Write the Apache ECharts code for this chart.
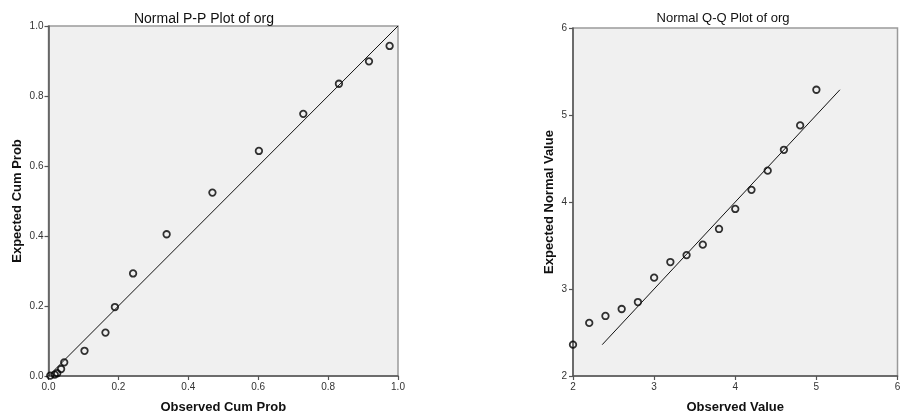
<!DOCTYPE html>
<html>
<head>
<meta charset="utf-8">
<script src="https://cdn.jsdelivr.net/npm/echarts@6/dist/echarts.min.js"></script>
<style>
html,body{margin:0;padding:0;background:#fff;}
#c{width:905px;height:420px;}
</style>
</head>
<body>
<div id="c"></div>
<script>
// P-P plot: observed cumulative probability vs expected cumulative probability
var ppObserved = [0.005, 0.018, 0.025, 0.036, 0.045, 0.103, 0.163, 0.190, 0.242, 0.338, 0.469, 0.602, 0.729, 0.831, 0.917, 0.976];
var ppExpected = [0.001, 0.004, 0.008, 0.020, 0.039, 0.072, 0.124, 0.197, 0.293, 0.405, 0.524, 0.643, 0.749, 0.835, 0.899, 0.943];
var ppLine = [[0, 0], [1, 1]];
var ppTicks = [0, 0.2, 0.4, 0.6, 0.8, 1.0];

// Q-Q plot: observed value vs expected normal value
var qqObserved = [2.0, 2.2, 2.4, 2.6, 2.8, 3.0, 3.2, 3.4, 3.6, 3.8, 4.0, 4.2, 4.4, 4.6, 4.8, 5.0];
var qqExpected = [2.36, 2.61, 2.69, 2.77, 2.85, 3.13, 3.31, 3.39, 3.51, 3.69, 3.92, 4.14, 4.36, 4.60, 4.88, 5.29];
var qqLine = [[2.36, 2.36], [5.29, 5.29]];
var qqTicks = [2, 3, 4, 5, 6];

var FONT = '"Liberation Sans", Arial, sans-serif';

function zip(a, b) { return a.map(function (v, i) { return [v, b[i]]; }); }

function axisCommon(min, max, interval, dec) {
  return {
    type: 'value', min: min, max: max, interval: interval,
    axisLine: { show: true, onZero: false, lineStyle: { color: '#555', width: 1.5 } },
    axisTick: { show: true, inside: false, length: 4, lineStyle: { color: '#555', width: 1.2 } },
    splitLine: { show: false },
    axisLabel: {
      color: '#333', fontSize: 10, fontFamily: FONT, margin: 5,
      formatter: function (v) { return dec ? v.toFixed(1) : String(v); }
    },
    nameLocation: 'middle',
    nameTextStyle: { color: '#111', fontSize: 13, fontWeight: 'bold', fontFamily: FONT }
  };
}

var chart = echarts.init(document.getElementById('c'), null, { renderer: 'canvas' });

var xa0 = axisCommon(ppTicks[0], ppTicks[ppTicks.length - 1], 0.2, true);
xa0.gridIndex = 0; xa0.name = 'Observed Cum Prob'; xa0.nameGap = 25; xa0.axisLabel.margin = 6;
var ya0 = axisCommon(ppTicks[0], ppTicks[ppTicks.length - 1], 0.2, true);
ya0.gridIndex = 0; ya0.name = 'Expected Cum Prob'; ya0.nameGap = 25;

var xa1 = axisCommon(qqTicks[0], qqTicks[qqTicks.length - 1], 1, false);
xa1.gridIndex = 1; xa1.name = 'Observed Value'; xa1.nameGap = 25; xa1.axisLabel.margin = 6;
var ya1 = axisCommon(qqTicks[0], qqTicks[qqTicks.length - 1], 1, false);
ya1.gridIndex = 1; ya1.name = 'Expected Normal Value'; ya1.nameGap = 17; ya1.axisLabel.margin = 6;

var scatterStyle = { color: 'rgba(0,0,0,0)', borderColor: '#000', borderWidth: 1.8 };

chart.setOption({
  animation: false,
  backgroundColor: '#fff',
  title: [
    { text: 'Normal P-P Plot of org', left: 199, top: 7, textAlign: 'center',
      textStyle: { fontSize: 14, fontWeight: 'normal', color: '#111', fontFamily: FONT } },
    { text: 'Normal Q-Q Plot of org', left: 718, top: 7, textAlign: 'center',
      textStyle: { fontSize: 13, fontWeight: 'normal', color: '#111', fontFamily: FONT } }
  ],
  grid: [
    { left: 48.5, top: 26, width: 349.5, height: 350, show: true, backgroundColor: '#f0f0f0', borderColor: '#9a9a9a', borderWidth: 1.5 },
    { left: 573, top: 28, width: 324.5, height: 348, show: true, backgroundColor: '#f0f0f0', borderColor: '#9a9a9a', borderWidth: 1.5 }
  ],
  xAxis: [xa0, xa1],
  yAxis: [ya0, ya1],
  series: [
    { type: 'line', xAxisIndex: 0, yAxisIndex: 0, data: ppLine, symbol: 'none',
      lineStyle: { color: '#111', width: 1 }, silent: true },
    { type: 'scatter', xAxisIndex: 0, yAxisIndex: 0, data: zip(ppObserved, ppExpected),
      symbol: 'circle', symbolSize: 6.5, itemStyle: scatterStyle },
    { type: 'line', xAxisIndex: 1, yAxisIndex: 1, data: qqLine, symbol: 'none',
      lineStyle: { color: '#111', width: 1 }, silent: true },
    { type: 'scatter', xAxisIndex: 1, yAxisIndex: 1, data: zip(qqObserved, qqExpected),
      symbol: 'circle', symbolSize: 6.5, itemStyle: scatterStyle }
  ]
});
</script>
</body>
</html>
